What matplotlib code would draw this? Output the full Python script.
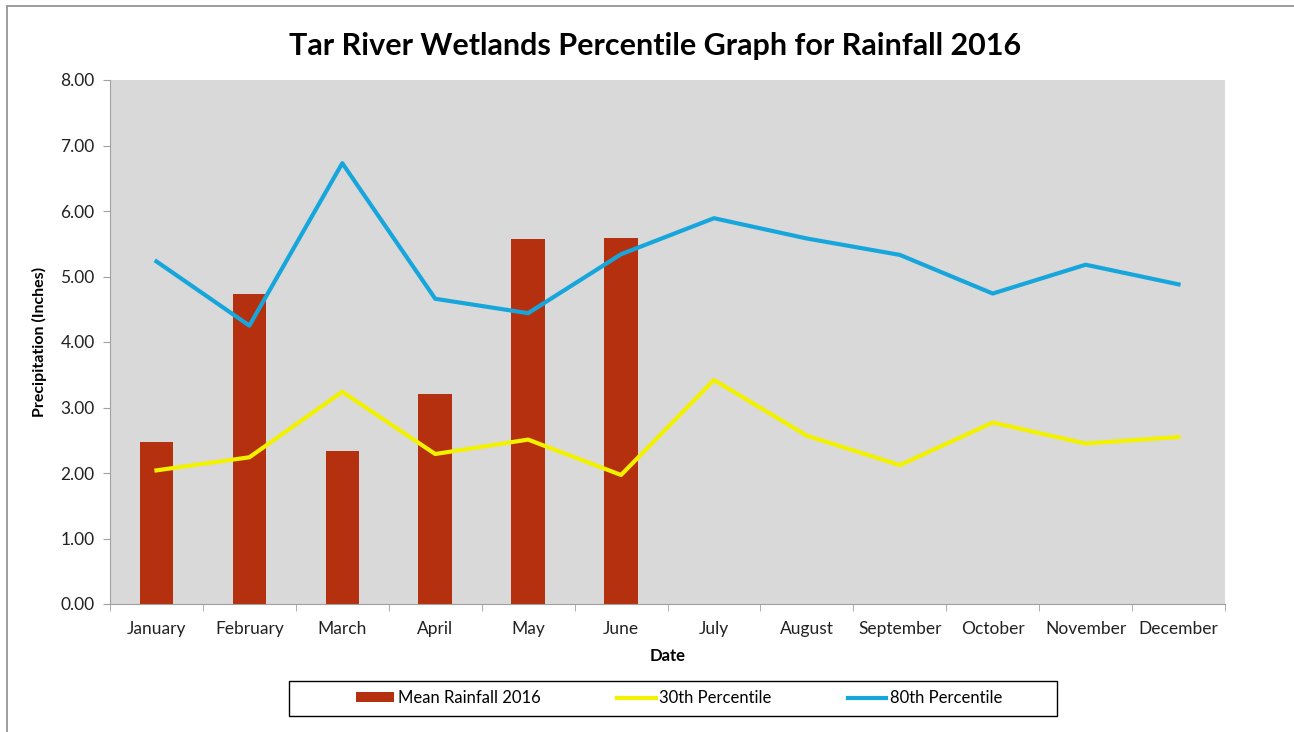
import matplotlib.pyplot as plt
from matplotlib.patches import Rectangle
from matplotlib.ticker import FormatStrFormatter, MultipleLocator
import numpy as np

# Datos de precipitacion 2016
months = ['January', 'February', 'March', 'April', 'May', 'June', 'July',
          'August', 'September', 'October', 'November', 'December']
mean_rain = [2.47, 4.73, 2.34, 3.21, 5.58, 5.59]
pct30 = [2.04, 2.24, 3.24, 2.29, 2.51, 1.97, 3.42, 2.57, 2.12, 2.77, 2.45, 2.55]
pct80 = [5.23, 4.25, 6.73, 4.66, 4.44, 5.34, 5.89, 5.58, 5.33, 4.74, 5.18, 4.88]

plt.rcParams['font.family'] = ['Lato', 'DejaVu Sans']

fig = plt.figure(figsize=(12.94, 7.32), dpi=100)
fig.patch.set_facecolor('white')

# marco exterior del grafico
fig.patches.append(Rectangle((7 / 1294, -0.05), 1.2, 1 - 6 / 732 + 0.05,
                             transform=fig.transFigure, fill=False,
                             edgecolor='#8c8c8c', linewidth=1.2))

ax = fig.add_axes([110 / 1294, 128 / 732, 1115 / 1294, 524 / 732])
ax.set_facecolor('#d9d9d9')

x = np.arange(len(months))
bars = ax.bar(x[:len(mean_rain)], mean_rain, width=0.36, color='#b5300f',
              label='Mean Rainfall 2016', zorder=2)
l30, = ax.plot(x, pct30, color='#f2f200', linewidth=3, label='30th Percentile', zorder=3)
l80, = ax.plot(x, pct80, color='#16a6dc', linewidth=3, label='80th Percentile', zorder=3)

ax.set_xlim(-0.5, len(months) - 0.5)
ax.set_ylim(0, 8)
ax.yaxis.set_major_locator(MultipleLocator(1))
ax.yaxis.set_major_formatter(FormatStrFormatter('%.2f'))

ax.set_xticks(x)
ax.set_xticklabels(months)
ax.set_xticks(np.arange(-0.5, len(months)), minor=True)
ax.tick_params(axis='x', which='major', length=0, pad=12, labelsize=12.5,
               labelcolor='#222222')
ax.tick_params(axis='x', which='minor', length=5, color='#a0a0a0')
ax.tick_params(axis='y', length=5, color='#a0a0a0', labelsize=12.5,
               labelcolor='#222222', pad=6)

for side in ['top', 'right']:
    ax.spines[side].set_visible(False)
ax.spines['left'].set_color('#a0a0a0')
ax.spines['bottom'].set_color('#a0a0a0')

ax.set_xlabel('Date', fontsize=12, fontweight='bold', labelpad=8)
ax.set_ylabel('Precipitation (Inches)', fontsize=11.5, fontweight='bold', labelpad=10)

fig.text(655 / 1294, 1 - 46 / 732, 'Tar River Wetlands Percentile Graph for Rainfall 2016',
         ha='center', va='center', fontsize=22, fontweight='bold')

# leyenda con marco
fig.patches.append(Rectangle((289 / 1294, 16 / 732), 768 / 1294, 35 / 732,
                             transform=fig.transFigure, fill=False,
                             edgecolor='black', linewidth=1))
fig.legend(handles=[bars, l30, l80], loc='center', bbox_to_anchor=(679 / 1294, 34 / 732),
           ncol=3, frameon=False, fontsize=12, handlelength=2.3, handletextpad=0.2,
           handleheight=0.5, columnspacing=4.6)

plt.savefig('out.png', dpi=100)
